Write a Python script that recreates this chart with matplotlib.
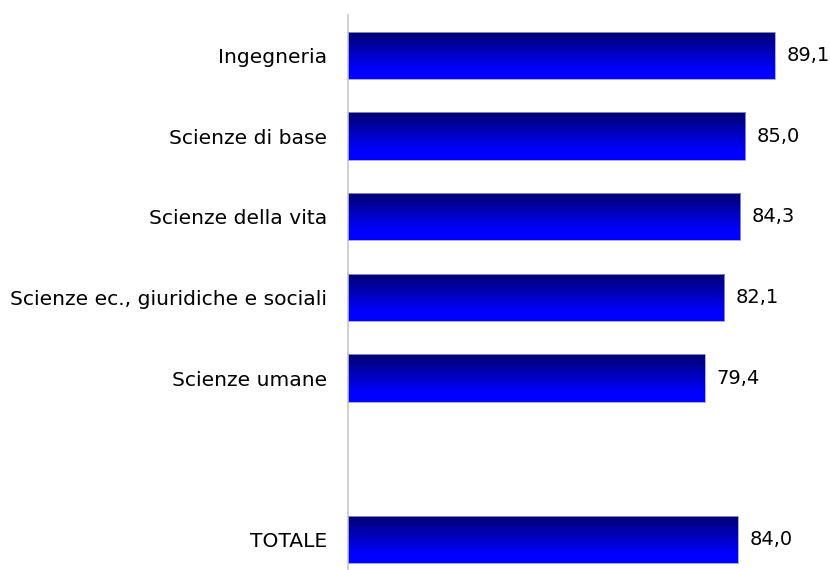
import matplotlib
matplotlib.use("Agg")
import matplotlib.pyplot as plt
import numpy as np
from matplotlib.colors import LinearSegmentedColormap

categories = ["Ingegneria", "Scienze di base", "Scienze della vita",
              "Scienze ec., giuridiche e sociali", "Scienze umane", "", "TOTALE"]
values = [89.1, 85.0, 84.3, 82.1, 79.4, None, 84.0]
value_labels = ["89,1", "85,0", "84,3", "82,1", "79,4", "", "84,0"]

plt.rcParams['font.family'] = ['DejaVu Sans']

fig = plt.figure(figsize=(8.3, 5.7), dpi=100)
ax = fig.add_axes([348/830, 0.0, 1 - 348/830, (570 - 15)/570])

xmin, xmax = 30, 96.76
ypos = np.arange(len(categories))
vals = [v if v is not None else np.nan for v in values]

cmap = LinearSegmentedColormap.from_list("g", [(0, "#00006e"), (0.8, "#0000ff"), (1.0, "#0000ff")])
grad = np.linspace(0, 1, 256).reshape(-1, 1)

bars = ax.barh(ypos, [v - xmin if not np.isnan(v) else 0 for v in vals], left=xmin,
               height=0.59, color="none", edgecolor="#9a9ad0", linewidth=0.6, zorder=3)
for b, v, lab in zip(bars, vals, value_labels):
    if np.isnan(v):
        b.set_visible(False)
        continue
    x0, y0 = b.get_x(), b.get_y()
    w, h = b.get_width(), b.get_height()
    im = ax.imshow(grad, cmap=cmap, aspect="auto",
                   extent=[x0, x0 + w, y0 + h, y0], origin="upper", zorder=2,
                   interpolation="bilinear")
    im.set_clip_path(b)
    ax.text(x0 + w + 1.6, y0 + h / 2, lab, va="center", ha="left", fontsize=14.0, color="black")

ax.set_xlim(xmin, xmax)
ax.set_ylim(6.38, -0.5)
ax.set_yticks(ypos)
ax.set_yticklabels(categories, fontsize=14.6)
ax.tick_params(axis="y", length=0, pad=15)
ax.set_xticks([])
for s in ["top", "right", "bottom"]:
    ax.spines[s].set_visible(False)
ax.spines["left"].set_color("#c8c8c8")
ax.spines["left"].set_linewidth(1.2)

fig.savefig("out.png", dpi=100)
